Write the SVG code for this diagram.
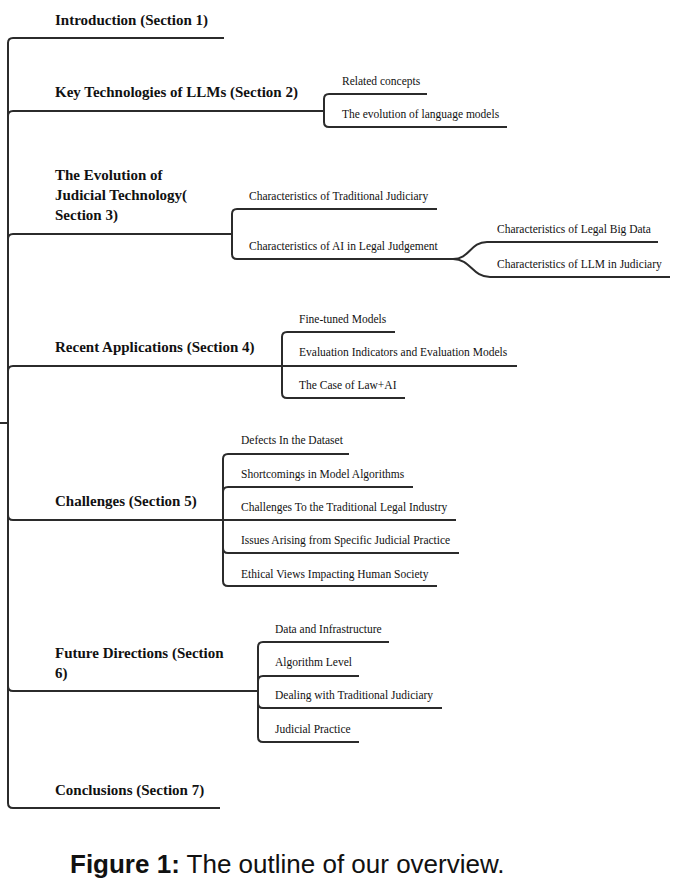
<svg xmlns="http://www.w3.org/2000/svg" width="675" height="885" viewBox="0 0 675 885">
<style>
.c{fill:none;stroke:#2b2b2b;stroke-width:2;stroke-linecap:butt;stroke-linejoin:round}
.t1{font-family:"Liberation Serif",serif;font-weight:bold;font-size:15px;fill:#111}
.t2{font-family:"Liberation Serif",serif;font-size:11.5px;fill:#111}
.cap{font-family:"Liberation Sans",sans-serif;font-size:26px;fill:#111}
</style>
<rect width="675" height="885" fill="#fff"/>
<g id="connectors">
<path class="c" d="M0 423 H8"/>
<path class="c" d="M8 423 V43 Q8 38 13 38 H224"/>
<path class="c" d="M8 423 V116 Q8 111 13 111 H324"/>
<path class="c" d="M8 423 V239 Q8 234 13 234 H232"/>
<path class="c" d="M8 423 V371 Q8 366 13 366 H282"/>
<path class="c" d="M8 423 V515 Q8 520 13 520 H223"/>
<path class="c" d="M8 423 V686 Q8 691 13 691 H258"/>
<path class="c" d="M8 423 V803 Q8 808 13 808 H220"/>
<path class="c" d="M324 111 V99 Q324 94 329 94 H427"/>
<path class="c" d="M324 111 V122 Q324 127 329 127 H507"/>
<path class="c" d="M232 234 V214 Q232 209 237 209 H437"/>
<path class="c" d="M232 234 V254 Q232 259 237 259 H453"/>
<path class="c" d="M453 259 C470 259 470 242 487 242 H658"/>
<path class="c" d="M453 259 C471 259 472 277 490 277 H670"/>
<path class="c" d="M282 366 V337 Q282 332 287 332 H395"/>
<path class="c" d="M282 366 H517"/>
<path class="c" d="M282 366 V393 Q282 398 287 398 H405"/>
<path class="c" d="M223 520 V459 Q223 454 228 454 H349"/>
<path class="c" d="M223 520 V492 Q223 487 228 487 H413"/>
<path class="c" d="M223 520 H456"/>
<path class="c" d="M223 520 V548 Q223 553 228 553 H459"/>
<path class="c" d="M223 520 V581 Q223 586 228 586 H437"/>
<path class="c" d="M258 691 V647 Q258 642 263 642 H389"/>
<path class="c" d="M258 691 V681 Q258 676 263 676 H359"/>
<path class="c" d="M258 691 V703 Q258 708 263 708 H442"/>
<path class="c" d="M258 691 V737 Q258 742 263 742 H359"/>
</g>
<g id="n1"><text class="t1" x="55" y="25">Introduction (Section 1)</text></g>
<g id="n2"><text class="t1" x="55" y="97">Key Technologies of LLMs (Section 2)</text></g>
<g id="n2a"><text class="t2" x="342" y="85">Related concepts</text></g>
<g id="n2b"><text class="t2" x="342" y="118">The evolution of language models</text></g>
<g id="n3"><text class="t1" x="55" y="180">The Evolution of</text><text class="t1" x="55" y="200">Judicial Technology(</text><text class="t1" x="55" y="220">Section 3)</text></g>
<g id="n3a"><text class="t2" x="249" y="200">Characteristics of Traditional Judiciary</text></g>
<g id="n3b"><text class="t2" x="249" y="250">Characteristics of AI in Legal Judgement</text></g>
<g id="n3b1"><text class="t2" x="497" y="233">Characteristics of Legal Big Data</text></g>
<g id="n3b2"><text class="t2" x="497" y="268">Characteristics of LLM in Judiciary</text></g>
<g id="n4"><text class="t1" x="55" y="352">Recent Applications (Section 4)</text></g>
<g id="n4a"><text class="t2" x="299" y="323">Fine-tuned Models</text></g>
<g id="n4b"><text class="t2" x="299" y="356">Evaluation Indicators and Evaluation Models</text></g>
<g id="n4c"><text class="t2" x="299" y="389">The Case of Law+AI</text></g>
<g id="n5"><text class="t1" x="55" y="506">Challenges (Section 5)</text></g>
<g id="n5a"><text class="t2" x="241" y="444">Defects In the Dataset</text></g>
<g id="n5b"><text class="t2" x="241" y="478">Shortcomings in Model Algorithms</text></g>
<g id="n5c"><text class="t2" x="241" y="511">Challenges To the Traditional Legal Industry</text></g>
<g id="n5d"><text class="t2" x="241" y="544">Issues Arising from Specific Judicial Practice</text></g>
<g id="n5e"><text class="t2" x="241" y="578">Ethical Views Impacting Human Society</text></g>
<g id="n6"><text class="t1" x="55" y="658">Future Directions (Section</text><text class="t1" x="55" y="678">6)</text></g>
<g id="n6a"><text class="t2" x="275" y="633">Data and Infrastructure</text></g>
<g id="n6b"><text class="t2" x="275" y="666">Algorithm Level</text></g>
<g id="n6c"><text class="t2" x="275" y="699">Dealing with Traditional Judiciary</text></g>
<g id="n6d"><text class="t2" x="275" y="733">Judicial Practice</text></g>
<g id="n7"><text class="t1" x="55" y="795">Conclusions (Section 7)</text></g>
<text class="cap" x="70" y="873"><tspan font-weight="bold">Figure 1:</tspan> The outline of our overview.</text>
</svg>
